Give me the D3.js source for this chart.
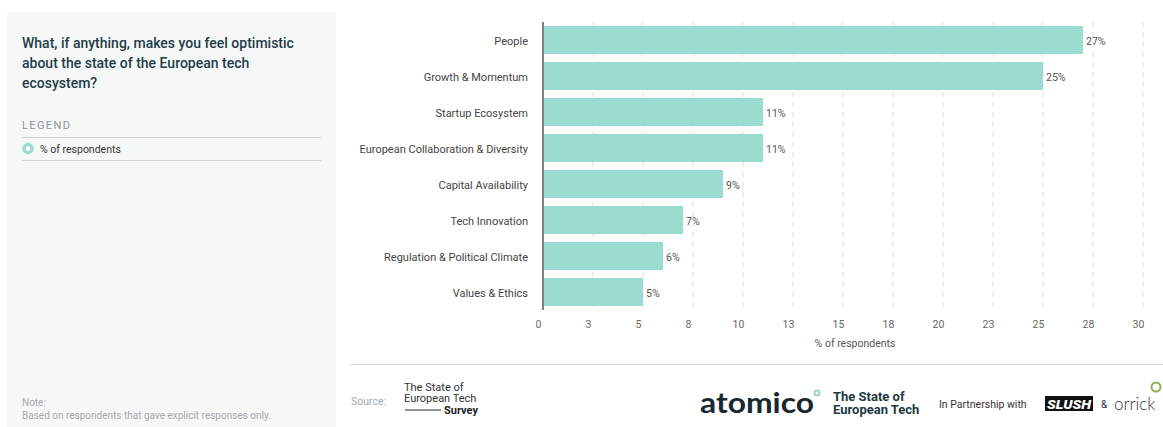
<!DOCTYPE html>
<html>
<head>
<meta charset="utf-8">
<script src="https://cdn.jsdelivr.net/npm/d3@7/dist/d3.min.js"></script>
<style>
  html, body { margin: 0; padding: 0; background: #fff; }
  svg { display: block; font-family: Roboto, "Noto Sans", sans-serif; }
</style>
</head>
<body>
<svg id="chart" width="1163" height="427"></svg>
<script>
const categories = ["People", "Growth & Momentum", "Startup Ecosystem", "European Collaboration & Diversity",
  "Capital Availability", "Tech Innovation", "Regulation & Political Climate", "Values & Ethics"];
const values = [27, 25, 11, 11, 9, 7, 6, 5];
const tickValues = [0, 2.5, 5, 7.5, 10, 12.5, 15, 17.5, 20, 22.5, 25, 27.5, 30];
const titleLines = ["What, if anything, makes you feel optimistic", "about the state of the European tech", "ecosystem?"];
const legendLabel = "% of respondents";
const axisTitle = "% of respondents";
const noteLines = ["Note:", "Based on respondents that gave explicit responses only."];

const svg = d3.select("#chart");
const barColor = "#9cdbcf";

// Left panel
svg.append("rect").attr("x", 7).attr("y", 12).attr("width", 329).attr("height", 415).attr("fill", "#f6f8f8");
svg.append("g").selectAll("text").data(titleLines).join("text")
  .attr("x", 22).attr("y", (d, i) => 48 + i * 20)
  .attr("font-size", 14).attr("font-weight", 500).attr("fill", "#1f3d47").text(d => d);
svg.append("text").attr("x", 22).attr("y", 129).attr("font-size", 11).attr("letter-spacing", 1.4)
  .attr("fill", "#8c9599").text("LEGEND");
svg.append("line").attr("x1", 22).attr("x2", 321).attr("y1", 137.5).attr("y2", 137.5).attr("stroke", "#cfd4d6");
svg.append("circle").attr("cx", 28).attr("cy", 148.5).attr("r", 4).attr("fill", "#fff").attr("stroke", barColor).attr("stroke-width", 3.5);
svg.append("text").attr("x", 40).attr("y", 152.5).attr("font-size", 10.5).attr("fill", "#333").text(legendLabel);
svg.append("line").attr("x1", 22).attr("x2", 321).attr("y1", 160.5).attr("y2", 160.5).attr("stroke", "#cfd4d6");
svg.append("g").selectAll("text").data(noteLines).join("text")
  .attr("x", 22).attr("y", (d, i) => 406 + i * 13)
  .attr("font-size", 10).attr("fill", "#a3a9ac").text(d => d);

// Scales
const x = d3.scaleLinear().domain([0, 30]).range([543, 1143]);
const y = d3.scaleBand().domain(categories).range([22, 310]).paddingInner(0.22).paddingOuter(0.11);

// Gridlines
svg.append("g").selectAll("line").data(tickValues.filter(d => d > 0)).join("line")
  .attr("x1", d => x(d)).attr("x2", d => x(d)).attr("y1", 22).attr("y2", 312)
  .attr("stroke", "#dcdcdc").attr("stroke-dasharray", "5,5");

// Bars
svg.append("g").selectAll("rect").data(values).join("rect")
  .attr("x", x(0) + 1).attr("y", (d, i) => y(categories[i]))
  .attr("width", d => x(d) - x(0) - 1).attr("height", y.bandwidth())
  .attr("fill", barColor);

// Value labels
svg.append("g").selectAll("text").data(values).join("text")
  .attr("x", d => x(d) + 3).attr("y", (d, i) => y(categories[i]) + y.bandwidth() / 2 + 5)
  .attr("font-size", 10.5).attr("fill", "#555").text(d => d + "%");

// Y axis
const yAxis = svg.append("g").attr("transform", `translate(${x(0)},1)`)
  .call(d3.axisLeft(y).tickSize(0).tickPadding(15));
yAxis.select(".domain").attr("stroke", "#555").attr("stroke-width", 1.5).attr("d", "M0,21V309");
yAxis.selectAll("text").attr("font-size", 11).attr("fill", "#444").attr("font-family", "Roboto, sans-serif");

// X axis
const xAxis = svg.append("g").attr("transform", "translate(-5,311)")
  .call(d3.axisBottom(x).tickValues(tickValues).tickSize(0).tickPadding(10).tickFormat(d => Math.round(d)));
xAxis.select(".domain").remove();
xAxis.selectAll("text").attr("font-size", 10.5).attr("fill", "#666").attr("font-family", "Roboto, sans-serif");
svg.append("text").attr("x", 855).attr("y", 347).attr("text-anchor", "middle")
  .attr("font-size", 10.5).attr("fill", "#555").text(axisTitle);

// Footer
svg.append("line").attr("x1", 350).attr("x2", 1163).attr("y1", 364.5).attr("y2", 364.5).attr("stroke", "#ddd");
svg.append("text").attr("x", 351).attr("y", 405).attr("font-size", 10.5).attr("fill", "#a3a9ac").text("Source:");
const src = ["The State of", "European Tech"];
svg.append("g").selectAll("text").data(src).join("text")
  .attr("x", 404).attr("y", (d, i) => 391 + i * 11).attr("font-size", 11).attr("fill", "#333").text(d => d);
svg.append("line").attr("x1", 405).attr("x2", 441).attr("y1", 410).attr("y2", 410).attr("stroke", "#222").attr("stroke-width", 1.2);
svg.append("text").attr("x", 444).attr("y", 414).attr("font-size", 11).attr("font-weight", 700).attr("fill", "#222").text("Survey");

svg.append("text").attr("x", 700).attr("y", 413).attr("font-size", 28).attr("font-weight", 700)
  .attr("font-family", "Lato, sans-serif").attr("fill", "#17292e")
  .attr("textLength", 114).attr("lengthAdjust", "spacingAndGlyphs").text("atomico");
svg.append("circle").attr("cx", 817).attr("cy", 393).attr("r", 2.5).attr("fill", "none").attr("stroke", "#7fcfbf").attr("stroke-width", 1.5);
svg.append("g").selectAll("text").data(["The State of", "European Tech"]).join("text")
  .attr("x", 833).attr("y", (d, i) => 401 + i * 13).attr("font-size", 13).attr("font-weight", 700)
  .attr("fill", "#1e3a44").text(d => d);
svg.append("text").attr("x", 939).attr("y", 408).attr("font-size", 10.5).attr("fill", "#333").text("In Partnership with");
svg.append("rect").attr("x", 1045).attr("y", 396).attr("width", 48).attr("height", 15).attr("fill", "#111");
svg.append("text").attr("x", 1047).attr("y", 409).attr("font-size", 13).attr("font-weight", 900)
  .attr("font-style", "italic").attr("fill", "#fff").attr("textLength", 44).attr("lengthAdjust", "spacingAndGlyphs").text("SLUSH");
svg.append("text").attr("x", 1101).attr("y", 408).attr("font-size", 10).attr("fill", "#333").text("&");
svg.append("text").attr("x", 1114).attr("y", 410).attr("font-size", 17).attr("fill", "#333")
  .attr("font-family", "Lato, sans-serif").attr("font-weight", 300).text("orrick");
svg.append("circle").attr("cx", 1156).attr("cy", 387).attr("r", 4.5).attr("fill", "none").attr("stroke", "#8db04a").attr("stroke-width", 2);
</script>
</body>
</html>
